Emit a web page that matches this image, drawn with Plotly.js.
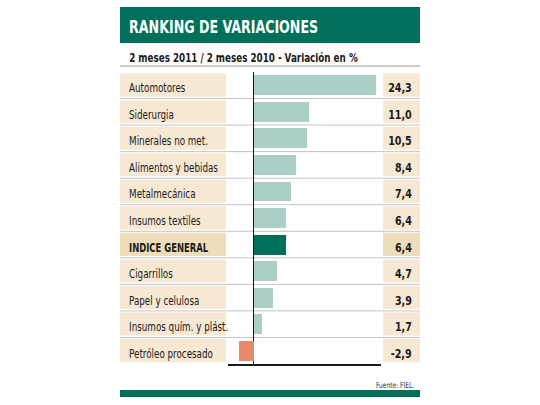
<!DOCTYPE html>
<html>
<head>
<meta charset="utf-8">
<script src="https://cdn.plot.ly/plotly-3.0.1.min.js"></script>
<style>html,body{margin:0;padding:0;background:#fff;}</style>
</head>
<body>
<div id="chart" style="width:540px;height:405px;"></div>
<script>
var categories = ["Automotores", "Siderurgia", "Minerales no met.", "Alimentos y bebidas", "Metalmecánica", "Insumos textiles", "INDICE GENERAL", "Cigarrillos", "Papel y celulosa", "Insumos quím. y plást.", "Petróleo procesado"];
var values = [24.3, 11.0, 10.5, 8.4, 7.4, 6.4, 6.4, 4.7, 3.9, 1.7, -2.9];
var valueLabels = ["24,3", "11,0", "10,5", "8,4", "7,4", "6,4", "6,4", "4,7", "3,9", "1,7", "-2,9"];
var highlight = "INDICE GENERAL";
var titleText = "RANKING DE VARIACIONES";
var subtitleText = "2 meses 2011 / 2 meses 2010 - Variación en %";
var sourceText = "Fuente: FIEL.";

var FONT = "'Liberation Sans Narrow', 'DejaVu Sans Condensed', 'Roboto Condensed', 'Arial Narrow', sans-serif";
var W = 540, H = 405, ML = 228, MR = 159, MT = 72, MB = 41;
var PW = W - ML - MR, PH = H - MT - MB;
function px(x) { return (x - ML) / PW; }
function py(y) { return (H - MB - y) / PH; }

var GREEN = "#00705a";
var TEAL = "#a9cfc6";
var NEG = "#e8896c";
var BEIGE = "#f6e8d3";
var BEIGE_HI = "#efdcb8";

var colors = categories.map(function (c, i) {
  if (c === highlight) return GREEN;
  return values[i] < 0 ? NEG : TEAL;
});

var trace = {
  type: "bar",
  orientation: "h",
  y: categories,
  x: values,
  width: 0.75,
  marker: { color: colors, line: { width: 0 } },
  hoverinfo: "none"
};

var shapes = [];
var annotations = [];
var annScale = [];
function addAnn(a, sx) { annotations.push(a); annScale.push(sx); }

// header
shapes.push({ type: "rect", xref: "paper", yref: "paper", x0: px(120), x1: px(420), y0: py(43), y1: py(7), fillcolor: GREEN, line: { width: 0 } });
addAnn({ xref: "paper", yref: "paper", x: px(127), y: py(27), xanchor: "left", yanchor: "middle", showarrow: false,
  text: "<b>" + titleText + "</b>", font: { family: FONT, size: 18, color: "#ffffff" } }, 0.78);
addAnn({ xref: "paper", yref: "paper", x: px(127), y: py(58.5), xanchor: "left", yanchor: "middle", showarrow: false,
  text: "<b>" + subtitleText + "</b>", font: { family: FONT, size: 11.5, color: "#1a1a1a" } }, 0.85);
shapes.push({ type: "line", xref: "paper", yref: "paper", x0: px(120), x1: px(420), y0: py(66), y1: py(66), line: { color: "#9a9a9a", width: 1 } });

// rows
categories.forEach(function (c, i) {
  var hi = c === highlight;
  shapes.push({ type: "rect", xref: "paper", yref: "y", layer: "below", x0: px(120), x1: px(226), y0: i - 0.44, y1: i + 0.43,
    fillcolor: hi ? BEIGE_HI : BEIGE, line: { width: 0 } });
  shapes.push({ type: "rect", xref: "paper", yref: "y", layer: "below", x0: px(383), x1: px(420), y0: i - 0.44, y1: i + 0.43,
    fillcolor: hi ? BEIGE_HI : BEIGE, line: { width: 0 } });
  if (i < categories.length - 1) {
    shapes.push({ type: "line", xref: "paper", yref: "y", layer: "below", x0: px(120), x1: px(420), y0: i + 0.5, y1: i + 0.5,
      line: { color: "#c4c4c4", width: 1 } });
  }
  addAnn({ xref: "paper", yref: "y", x: px(127), y: c, yshift: -2.5, xanchor: "left", yanchor: "middle", showarrow: false,
    text: hi ? "<b>" + c + "</b>" : c, font: { family: FONT, size: 12.5, color: "#1a1a1a" } }, hi ? 0.75 : 0.78);
  addAnn({ xref: "paper", yref: "y", x: px(414), y: c, yshift: -2.5, xanchor: "right", yanchor: "middle", showarrow: false,
    text: "<b>" + valueLabels[i] + "</b>", font: { family: FONT, size: 12.5, color: "#1a1a1a" } }, 0.85);
});

// footer
addAnn({ xref: "paper", yref: "paper", x: px(416), y: py(385), xanchor: "right", yanchor: "middle", showarrow: false,
  text: sourceText, font: { family: FONT, size: 8, color: "#333" } }, 0.83);
shapes.push({ type: "rect", xref: "paper", yref: "paper", x0: px(120), x1: px(420), y0: py(397), y1: py(390), fillcolor: GREEN, line: { width: 0 } });

var layout = {
  width: W, height: H,
  margin: { l: ML, r: MR, t: MT, b: MB, pad: 0 },
  paper_bgcolor: "#ffffff", plot_bgcolor: "rgba(0,0,0,0)",
  showlegend: false,
  bargap: 0,
  xaxis: { range: [-5.05, 25.25], showgrid: false, zeroline: true, zerolinecolor: "#1a1a1a", zerolinewidth: 1.5,
    showline: true, linecolor: "#1a1a1a", linewidth: 1.5, ticks: "", showticklabels: false, fixedrange: true },
  yaxis: { type: "category", autorange: false, range: [categories.length - 0.5, -0.5], showgrid: false, zeroline: false,
    showline: false, ticks: "", showticklabels: false, fixedrange: true },
  shapes: shapes,
  annotations: annotations
};

Plotly.newPlot("chart", [trace], layout, { displayModeBar: false, staticPlot: true }).then(function (gd) {
  // condense annotation text horizontally (narrow typeface look)
  var groups = gd.querySelectorAll("g.annotation");
  Array.prototype.forEach.call(groups, function (g) {
    var idx = +g.getAttribute("data-index");
    var a = annotations[idx];
    var t = g.querySelector("text.annotation-text");
    if (!a || !t) return;
    t.style.transformBox = "fill-box";
    t.style.transformOrigin = (a.xanchor === "right" ? "right" : "left") + " center";
    t.style.transform = "scaleX(" + annScale[idx] + ")";
  });
});
</script>
</body>
</html>
